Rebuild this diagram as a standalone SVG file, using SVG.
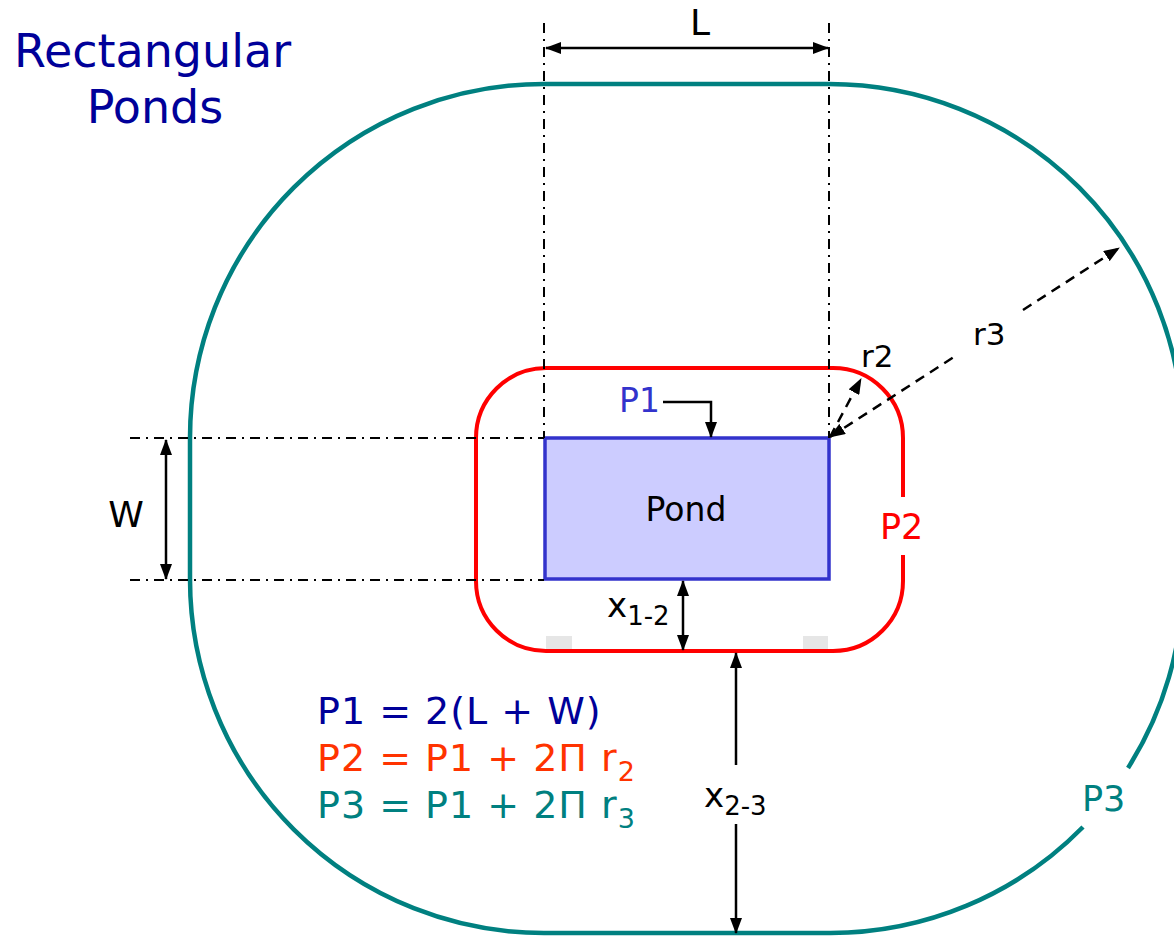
<svg xmlns="http://www.w3.org/2000/svg" width="1174" height="937" viewBox="0 0 1174 937">
<style>
text { font-family: "DejaVu Sans", Verdana, sans-serif; }
.blk { fill: #000; }
.dim { stroke: #000; stroke-width: 2.5; fill: none; }
.dashdot { stroke: #000; stroke-width: 2; fill: none; stroke-dasharray: 10 6 2 6; }
.dash { stroke: #000; stroke-width: 2.5; fill: none; stroke-dasharray: 10 7; }
.form { font-size: 38px; letter-spacing: 1px; }
</style>
<defs>
<marker id="ah" viewBox="0 0 16 12" refX="15" refY="6" markerWidth="16" markerHeight="12" markerUnits="userSpaceOnUse" orient="auto-start-reverse">
<path d="M0,0 L16,6 L0,12 Z" fill="#000"/>
</marker>
</defs>
<rect width="1174" height="937" fill="#fff"/>

<g id="title">
<text x="14" y="67" font-size="46" fill="#000099">Rectangular</text>
<text x="155" y="123" font-size="46" fill="#000099" text-anchor="middle">Ponds</text>
</g>

<g id="P3">
<path d="M1083,827 A354,354 0 0 1 829,933 H544 A354,354 0 0 1 190,579 V438 A354,354 0 0 1 544,84 H829 A354,354 0 0 1 1183,438 V579 A354,354 0 0 1 1128,768" fill="none" stroke="#008080" stroke-width="4.5"/>
<text x="1082" y="811" font-size="35" fill="#008080">P3</text>
</g>

<g id="P2">
<path d="M903,555 V581 A70,70 0 0 1 833,651 H546 A70,70 0 0 1 476,581 V438 A70,70 0 0 1 546,368 H833 A70,70 0 0 1 903,438 V497" fill="none" stroke="#ff0000" stroke-width="4"/>
<rect x="546" y="636" width="26" height="13" fill="#e6e6e6"/>
<rect x="803" y="636" width="25" height="13" fill="#e6e6e6"/>
<text x="880" y="539" font-size="35" fill="#ff0000">P2</text>
</g>

<g id="pond">
<rect x="545" y="438" width="284" height="141" fill="#ccccff" stroke="#3333cc" stroke-width="3.5"/>
<text x="686" y="521" font-size="33" fill="#000" text-anchor="middle">Pond</text>
</g>

<g id="P1">
<text x="619" y="412" font-size="33" fill="#3333cc">P1</text>
</g>

<g id="connectors">
<line class="dashdot" x1="544" y1="23" x2="544" y2="438"/>
<line class="dashdot" x1="829" y1="23" x2="829" y2="438"/>
<line class="dashdot" x1="130" y1="438" x2="544" y2="438"/>
<line class="dashdot" x1="130" y1="580" x2="544" y2="580"/>
<line class="dim" x1="546" y1="48" x2="828" y2="48" marker-start="url(#ah)" marker-end="url(#ah)"/>
<line class="dim" x1="166" y1="440" x2="166" y2="579" marker-start="url(#ah)" marker-end="url(#ah)"/>
<line class="dim" x1="683" y1="581" x2="683" y2="650" marker-start="url(#ah)" marker-end="url(#ah)"/>
<line class="dim" x1="736" y1="765" x2="736" y2="653" marker-end="url(#ah)"/>
<line class="dim" x1="736" y1="824" x2="736" y2="933" marker-end="url(#ah)"/>
<polyline class="dim" points="663,402 711,402 711,437" marker-end="url(#ah)"/>
<line class="dash" x1="830" y1="437" x2="861" y2="379" marker-end="url(#ah)"/>
<line class="dash" x1="830" y1="437" x2="957" y2="355" marker-start="url(#ah)"/>
<line class="dash" x1="1023" y1="310" x2="1119" y2="248" marker-end="url(#ah)"/>
</g>

<g id="labels">
<text x="700" y="35" font-size="36" class="blk" text-anchor="middle">L</text>
<text x="126" y="527" font-size="36" class="blk" text-anchor="middle">W</text>
<text x="861" y="367" font-size="31" class="blk">r2</text>
<text x="973" y="345" font-size="31" class="blk">r3</text>
<text x="607" y="617" font-size="34" class="blk">x<tspan dy="8" font-size="26">1-2</tspan></text>
<text x="704" y="807" font-size="34" class="blk">x<tspan dy="8" font-size="26">2-3</tspan></text>
</g>

<g id="formulas">
<text class="form" x="317" y="724" fill="#000099">P1 = 2(L + W)</text>
<text class="form" x="317" y="771" fill="#ff3300">P2 = P1 + 2Π r<tspan dy="10" font-size="27">2</tspan></text>
<text class="form" x="317" y="818" fill="#008080">P3 = P1 + 2Π r<tspan dy="10" font-size="27">3</tspan></text>
</g>
</svg>
